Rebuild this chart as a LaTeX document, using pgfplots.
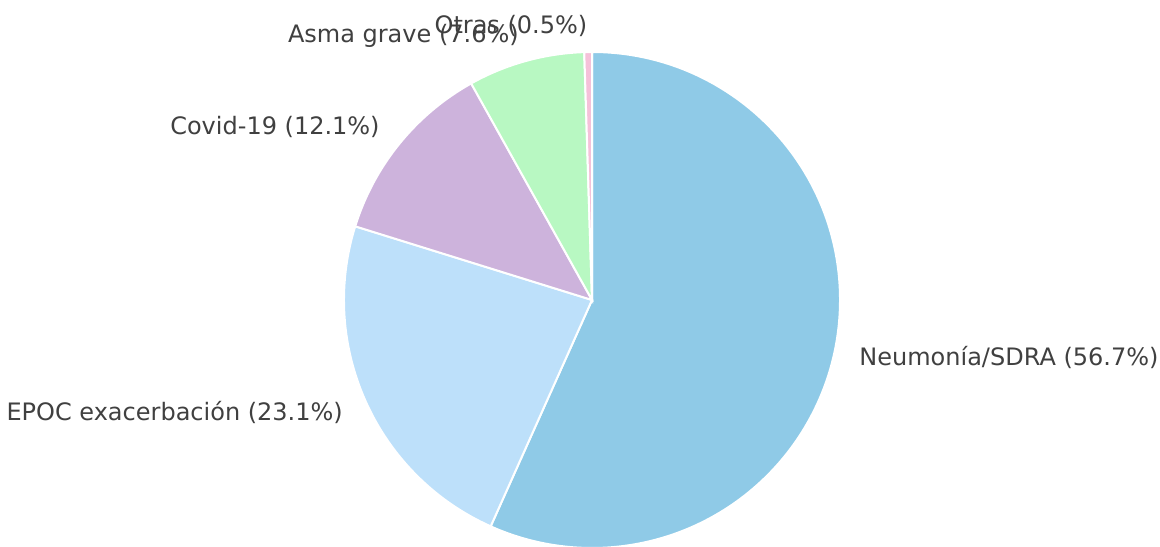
\documentclass[border=0pt]{standalone}
\usepackage{pgfplots}
\pgfplotsset{compat=1.18}
\usepackage{fontspec}
\setmainfont{DejaVu Sans}
\definecolor{cNeu}{HTML}{8FCAE7}
\definecolor{cEpoc}{HTML}{BDE0FA}
\definecolor{cCovid}{HTML}{CDB3DC}
\definecolor{cAsma}{HTML}{B8F8C2}
\definecolor{cOtras}{HTML}{F5C1D9}
\definecolor{txt}{HTML}{404040}
\tikzset{lbl/.style={font=\fontsize{12}{14}\selectfont, text=txt, inner sep=0pt}}
\begin{document}
\begin{tikzpicture}
% values (percent)
\def\vA{56.7}\def\vB{23.1}\def\vC{12.1}\def\vD{7.6}\def\vE{0.5}
\pgfmathsetmacro\aA{90}
\pgfmathsetmacro\aB{\aA-3.6*\vA}
\pgfmathsetmacro\aC{\aB-3.6*\vB}
\pgfmathsetmacro\aD{\aC-3.6*\vC}
\pgfmathsetmacro\aE{\aD-3.6*\vD}
\pgfmathsetmacro\aF{\aE-3.6*\vE}
\pgfmathsetmacro\mA{(\aA+\aB)/2}
\pgfmathsetmacro\mB{(\aB+\aC)/2}
\pgfmathsetmacro\mC{(\aC+\aD)/2}
\pgfmathsetmacro\mD{(\aD+\aE)/2}
\pgfmathsetmacro\mE{(\aE+\aF)/2}
\def\cx{592}\def\cy{246}\def\R{124pt}\def\Lx{273}\def\Ly{274}
\begin{axis}[
  scale only axis, width=580pt, height=273pt,
  xmin=0, xmax=1160, ymin=0, ymax=546,
  hide axis, clip=true,
]
\fill[cNeu, draw=white, line width=1pt] (axis cs:\cx,\cy) -- ++(\aA:\R) arc[start angle=\aA, end angle=\aB, radius=\R] -- cycle;
\fill[cEpoc, draw=white, line width=1pt] (axis cs:\cx,\cy) -- ++(\aB:\R) arc[start angle=\aB, end angle=\aC, radius=\R] -- cycle;
\fill[cCovid, draw=white, line width=1pt] (axis cs:\cx,\cy) -- ++(\aC:\R) arc[start angle=\aC, end angle=\aD, radius=\R] -- cycle;
\fill[cAsma, draw=white, line width=1pt] (axis cs:\cx,\cy) -- ++(\aD:\R) arc[start angle=\aD, end angle=\aE, radius=\R] -- cycle;
\fill[cOtras, draw=white, line width=1pt] (axis cs:\cx,\cy) -- ++(\aE:\R) arc[start angle=\aE, end angle=\aF, radius=\R] -- cycle;
\end{axis}
\begin{axis}[
  scale only axis, width=580pt, height=273pt,
  xmin=0, xmax=1160, ymin=0, ymax=546,
  hide axis, clip=false,
]
\node[lbl, anchor=west] at (axis cs:{\cx+\Lx*cos(\mA)},{\cy+\Ly*sin(\mA)}) {Neumonía/SDRA (56.7\%)};
\node[lbl, anchor=east] at (axis cs:{\cx+\Lx*cos(\mB)},{\cy+\Ly*sin(\mB)}) {EPOC exacerbación (23.1\%)};
\node[lbl, anchor=east] at (axis cs:{\cx+\Lx*cos(\mC)},{\cy+\Ly*sin(\mC)}) {Covid-19 (12.1\%)};
\node[lbl, anchor=east] at (axis cs:{\cx+\Lx*cos(\mD)},{\cy+\Ly*sin(\mD)}) {Asma grave (7.6\%)};
\node[lbl, anchor=east] at (axis cs:{\cx+\Lx*cos(\mE)},{\cy+\Ly*sin(\mE)}) {Otras (0.5\%)};
\end{axis}
\pgfresetboundingbox
\path (current axis.south west) rectangle (current axis.north east);
\end{tikzpicture}
\end{document}
